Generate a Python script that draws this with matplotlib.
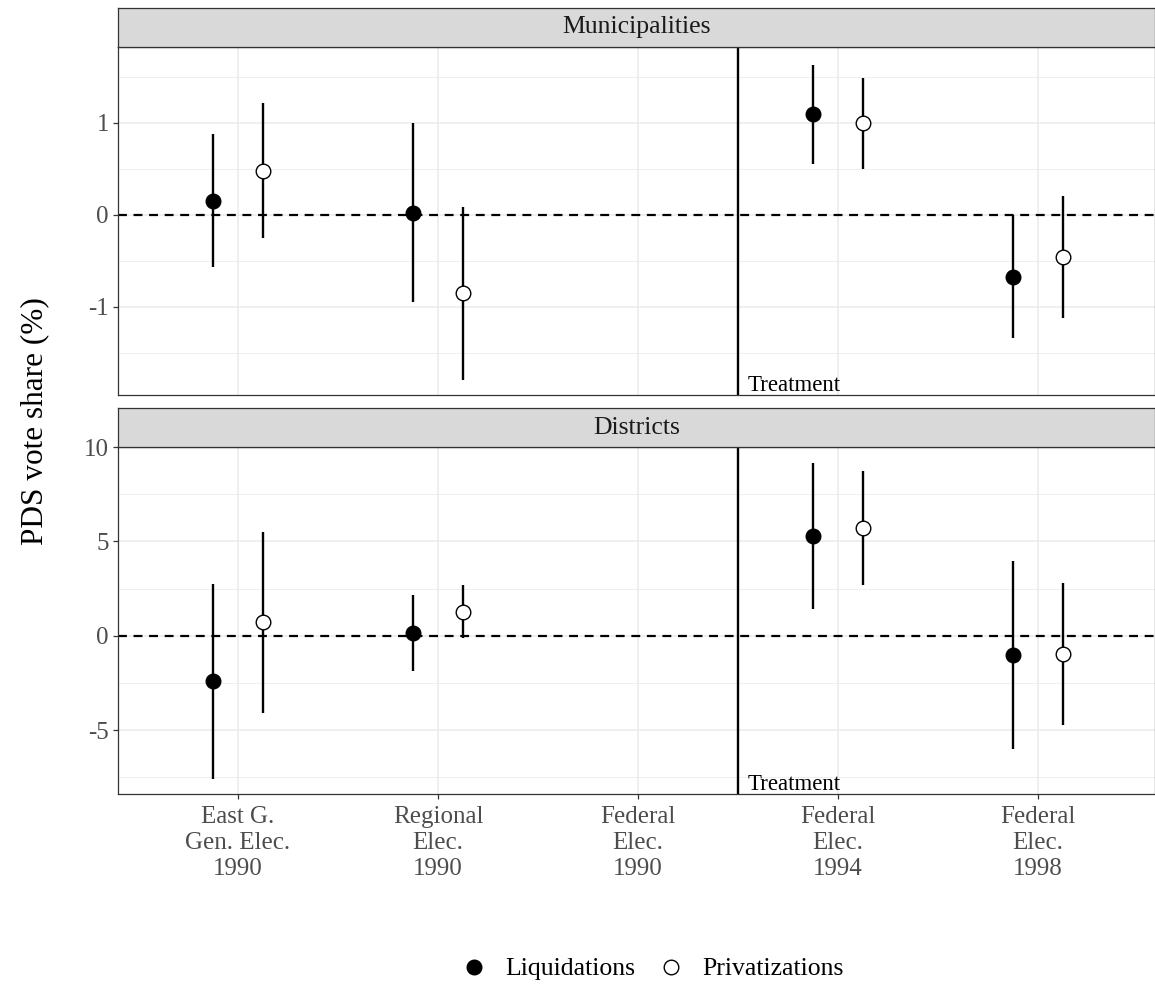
import numpy as np
import matplotlib
matplotlib.use("Agg")
import matplotlib.pyplot as plt
from matplotlib.lines import Line2D

plt.rcParams['font.family'] = ['Liberation Serif', 'DejaVu Serif']
plt.rcParams['axes.unicode_minus'] = False

# data
elections = ["East G.\nGen. Elec.\n1990", "Regional\nElec.\n1990",
             "Federal\nElec.\n1990", "Federal\nElec.\n1994",
             "Federal\nElec.\n1998"]
panels = ["Municipalities", "Districts"]

muni_liq = [0.155, 0.02, np.nan, 1.095, -0.677]
muni_liq_lo = [-0.57, -0.95, np.nan, 0.55, -1.334]
muni_liq_hi = [0.88, 1.0, np.nan, 1.63, 0.0]
muni_priv = [0.48, -0.85, np.nan, 0.997, -0.46]
muni_priv_lo = [-0.25, -1.79, np.nan, 0.497, -1.123]
muni_priv_hi = [1.22, 0.087, np.nan, 1.486, 0.207]

dist_liq = [-2.41, 0.13, np.nan, 5.27, -1.03]
dist_liq_lo = [-7.62, -1.88, np.nan, 1.42, -6.03]
dist_liq_hi = [2.75, 2.16, np.nan, 9.13, 3.94]
dist_priv = [0.71, 1.26, np.nan, 5.71, -0.96]
dist_priv_lo = [-4.1, -0.12, np.nan, 2.66, -4.71]
dist_priv_hi = [5.48, 2.7, np.nan, 8.72, 2.79]

treatment_pos = 3.5

W, H = 1155, 985
fig = plt.figure(figsize=(W / 100, H / 100), dpi=100)

left = 118 / W
width = 1 - left
strip_h = 39 / H

panel_specs = [
    # bottom px, top px, ylim, major ticks, minor ticks
    (395, 47, (-1.957, 1.826), [-1, 0, 1], [-1.5, -0.5, 0.5, 1.5],
     muni_liq, muni_liq_lo, muni_liq_hi, muni_priv, muni_priv_lo, muni_priv_hi),
    (794, 447, (-8.39, 10.0), [-5, 0, 5, 10], [-7.5, -2.5, 2.5, 7.5],
     dist_liq, dist_liq_lo, dist_liq_hi, dist_priv, dist_priv_lo, dist_priv_hi),
]

x = np.arange(1, len(elections) + 1)
dodge = 0.125
for i, spec in enumerate(panel_specs):
    bpx, tpx, ylim, major, minor, liq, liq_lo, liq_hi, priv, priv_lo, priv_hi = spec
    ax = fig.add_axes([left, 1 - bpx / H, width, (bpx - tpx) / H])
    ax.set_xlim(0.4, 5.585)
    ax.set_ylim(*ylim)
    ax.set_yticks(major)
    ax.set_yticks(minor, minor=True)
    ax.set_xticks(x)
    ax.grid(True, which='major', color='#EBEBEB', lw=1.1, zorder=0)
    ax.grid(True, which='minor', axis='y', color='#EBEBEB', lw=0.55, zorder=0)
    ax.set_axisbelow(True)
    for s in ax.spines.values():
        s.set_color('#333333')
        s.set_linewidth(0.9)
    ax.tick_params(which='major', length=3.5, width=0.9, color='#333333',
                   labelsize=18, labelcolor='#4D4D4D', pad=3)
    ax.tick_params(axis='x', pad=5)
    ax.tick_params(which='minor', length=0)
    if i == 0:
        ax.set_xticklabels([])
        ax.tick_params(axis='x', length=0)
    else:
        ax.set_xticklabels(elections, linespacing=1.25)

    ax.axhline(0, color='black', lw=1.6, ls=(0, (4, 3)), zorder=2)
    ax.axvline(treatment_pos, color='black', lw=1.7, zorder=2)
    ax.annotate("Treatment", xy=(treatment_pos, 0),
                xycoords=('data', 'axes fraction'), xytext=(7, 3),
                textcoords='offset points', fontsize=16.5, color='black',
                ha='left', va='baseline')

    ax.vlines(x - dodge, liq_lo, liq_hi, color='black', lw=1.7, zorder=3)
    ax.vlines(x + dodge, priv_lo, priv_hi, color='black', lw=1.7, zorder=3)
    ax.plot(x - dodge, liq, 'o', ms=10.5, mfc='black', mec='black',
            mew=1.0, ls='none', zorder=4)
    ax.plot(x + dodge, priv, 'o', ms=10.5, mfc='white', mec='black',
            mew=1.0, ls='none', zorder=4)

    # facet strip
    sax = fig.add_axes([left, 1 - tpx / H, width, strip_h])
    sax.set_facecolor('#D9D9D9')
    sax.set_xticks([]); sax.set_yticks([])
    for s in sax.spines.values():
        s.set_color('#333333')
        s.set_linewidth(0.9)
    sax.text(0.5, 0.5, panels[i], transform=sax.transAxes, ha='center',
             va='center', fontsize=18.5, color='#1A1A1A')

fig.text(35 / W, 1 - 421 / H, "PDS vote share (%)", rotation=90,
         ha='center', va='center', fontsize=22.5, color='black')

handles = [
    Line2D([], [], marker='o', ls='none', ms=10.5, mfc='black', mec='black'),
    Line2D([], [], marker='o', ls='none', ms=10.5, mfc='white', mec='black'),
]
fig.legend(handles, ["Liquidations", "Privatizations"], loc='center',
           bbox_to_anchor=(651 / W, 1 - 969 / H), ncol=2, frameon=False,
           fontsize=18.5, handletextpad=0.6, columnspacing=0.8,
           handlelength=1.2)

fig.savefig("out.png", dpi=100)
